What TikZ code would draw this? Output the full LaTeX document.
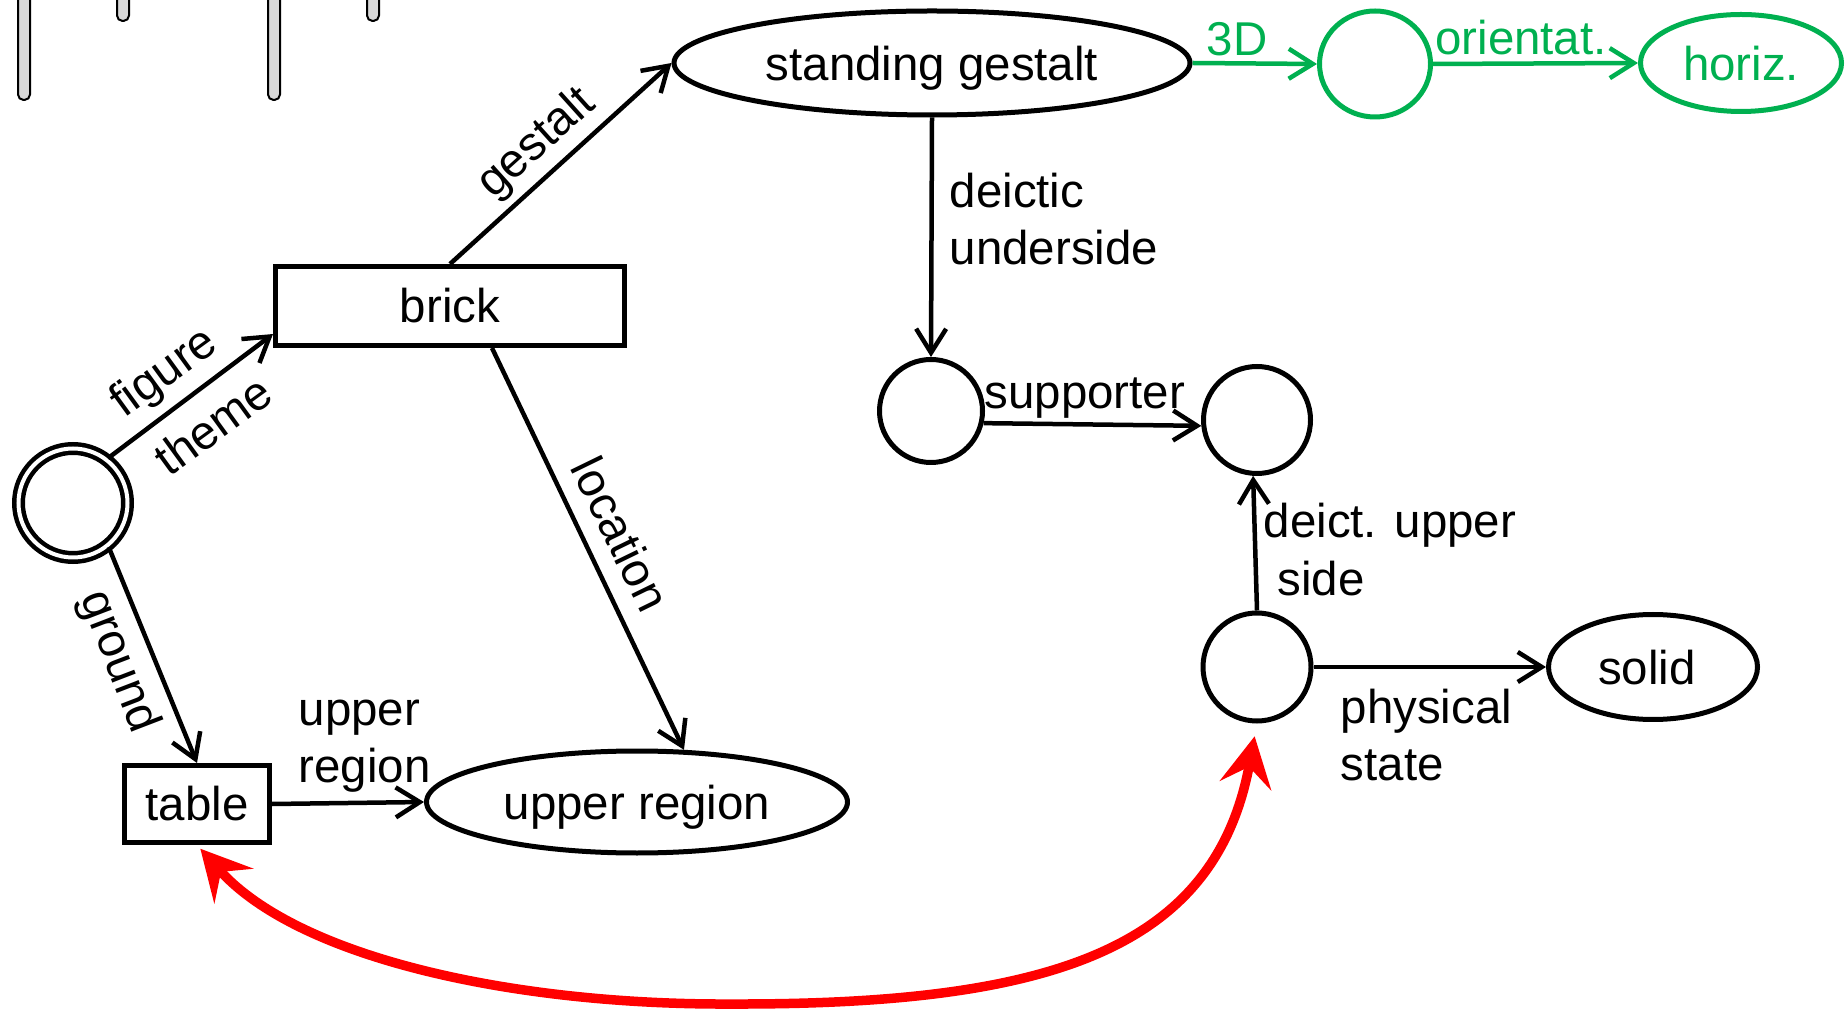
\documentclass[tikz,border=0pt]{standalone}
\usepackage{fontspec}
\setmainfont{Liberation Sans}
\usetikzlibrary{shapes.geometric,arrows.meta}
\definecolor{pathgreen}{HTML}{00B050}
\definecolor{leggray}{HTML}{D9D9D9}
\begin{document}
\begin{tikzpicture}[x=0.1mm,y=-0.1mm,
  every node/.style={font=\fontsize{13.5pt}{16pt}\selectfont, inner sep=0pt},
  box/.style={draw, rectangle, line width=0.5mm},
  oval/.style={draw, ellipse, line width=0.5mm, text depth=0pt},
  ring/.style={draw, circle, line width=0.5mm},
  conn/.style={line width=0.45mm, -{Straight Barb[length=2.4mm,width=3.0mm]}},
  greenconn/.style={conn, draw=pathgreen},
  redarc/.style={draw=red, line width=0.95mm,
    {Stealth[length=5mm,width=5.2mm,inset=1.9mm]}-{Stealth[length=5mm,width=5.2mm,inset=1.9mm]},
    shorten <=0.5mm, shorten >=1.3mm},
  leg/.style={draw=black, fill=leggray, line width=0.2mm, rounded corners=0.55mm},
  lbl/.style={anchor=base west}
]
\useasboundingbox (0,0) rectangle (1846,1013);
\clip (0,0) rectangle (1846,1013);

% table legs reaching in from the top edge
\draw[leg] (18,-20) rectangle (30,100);
\draw[leg] (117,-20) rectangle (129,21);
\draw[leg] (268,-20) rectangle (280,100);
\draw[leg] (367,-20) rectangle (379,21);

% nodes
\node[ring, double, double distance=0.4mm, line width=0.45mm, minimum size=10.9mm] (root) at (73,503) {};
\node[box, minimum width=34.9mm, minimum height=7.9mm] (brick) at (450,306) {brick};
\node[box, minimum width=14.5mm, minimum height=7.7mm] (table) at (197,804) {table};
\node[oval, minimum width=42.1mm, minimum height=10.2mm] (upreg) at (637,802) {upper region};
\node[oval, minimum width=51.6mm, minimum height=10.4mm] (sg) at (932,63) {standing gestalt};
\node[oval, draw=pathgreen, minimum width=11.1mm, minimum height=10.6mm] (gc) at (1375,64) {};
\node[oval, draw=pathgreen, text=pathgreen, minimum width=20.1mm, minimum height=9.7mm] (hz) at (1741,63) {horiz.};
\node[ring, minimum size=10.3mm] (supA) at (931,411) {};
\node[ring, minimum size=10.7mm] (supB) at (1257,420) {};
\node[ring, minimum size=10.8mm] (phys) at (1257,667) {};
\node[oval, minimum width=20.9mm, minimum height=10.5mm] (solid) at (1653,667) {\hspace*{-1.2mm}solid};

% connectors
\draw[conn] (root.52) -- (brick.189);
\draw[conn] (root.-51) -- (table.north);
\draw[conn] (brick.north) -- (sg.west);
\draw[conn] (brick.-45) -- (upreg.48);
\draw[conn] (table.east) -- (upreg.west);
\draw[conn] (sg.south) -- (supA.north);
\draw[conn] (supA.-13) -- (supB.186);
\draw[conn] (phys.north) -- (supB.-94);
\draw[conn] (phys.east) -- (solid.west);
\draw[greenconn] (sg.east) -- (gc.west);
\draw[greenconn] (gc.east) -- (hz.west);
\draw[redarc] (table.south) .. controls (300,960) and (520,1005) .. (730,1004)
  .. controls (1050,1005) and (1215,950) .. (phys.south);

% edge labels
\node[rotate=36] (lfig) at (165,374) {figure};
\node[rotate=36] (lthm) at (213,425) {theme};
\node[rotate=-69] (lgnd) at (118,662) {ground};
\node[rotate=42] (lges) at (537,144) {gestalt};
\node[rotate=-64] (lloc) at (621,534) {location};
\node[lbl] (lup1) at (298,726) {upper};
\node[lbl] (lup2) at (298,782) {region};
\node[lbl] (ldu1) at (949,208) {deictic};
\node[lbl] (ldu2) at (949,265) {underside};
\node[lbl] (lsup) at (984,409) {supporter};
\node[lbl] (ldus1) at (1263,538) {deict. upper};
\node[lbl] (ldus2) at (1277,596) {side};
\node[lbl] (lps1) at (1340,723) {physical};
\node[lbl] (lps2) at (1340,780) {state};
\node[text=pathgreen] (l3d) at (1237,39) {3D};
\node[text=pathgreen] (lor) at (1521,38) {orientat.};
\end{tikzpicture}
\end{document}
